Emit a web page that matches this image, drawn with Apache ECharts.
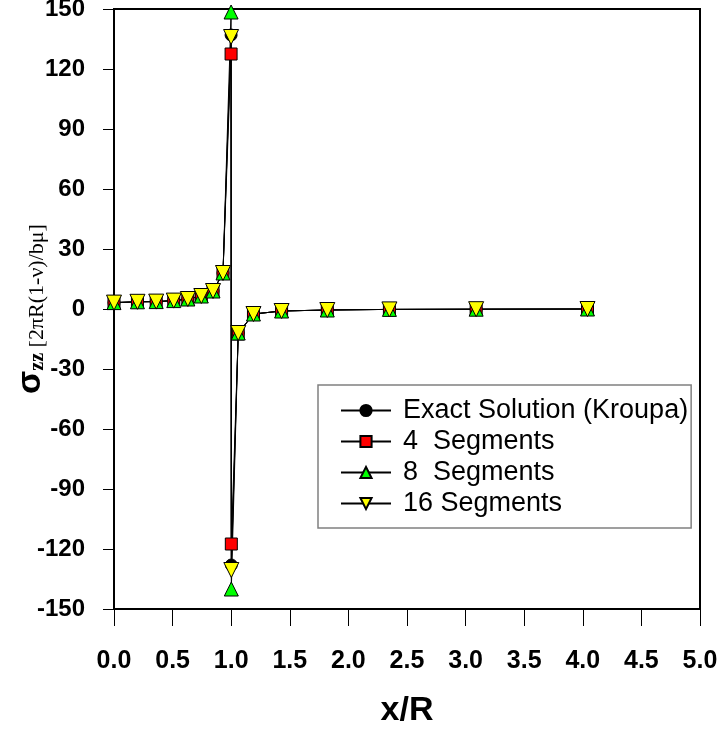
<!DOCTYPE html>
<html>
<head>
<meta charset="utf-8">
<script src="https://cdn.jsdelivr.net/npm/echarts@6/dist/echarts.min.js"></script>
<style>html,body{margin:0;padding:0;background:#fff;}#c{width:723px;height:731px;}</style>
</head>
<body>
<div id="c"></div>
<script>
var xValues = [0, 0.2, 0.36, 0.51, 0.63, 0.745, 0.845, 0.93, 0.999, 1.001, 1.06, 1.19, 1.43, 1.82, 2.35, 3.09, 4.04];
var exactValues = [3.2, 3.6, 3.7, 4.2, 5.0, 6.5, 9.0, 18, 137, -128, -12, -2.5, -1, -0.5, -0.2, -0.1, 0];
var seg4Values  = [3.2, 3.6, 3.7, 4.2, 5.0, 6.5, 9.0, 18, 127.5, -117.5, -12.5, -2.5, -1, -0.5, -0.2, -0.1, 0];
var seg8Values  = [3.2, 3.6, 3.7, 4.2, 5.0, 6.5, 9.0, 18, 148.5, -140, -12, -2.5, -1, -0.5, -0.2, -0.1, 0];
var seg16Values = [3.2, 3.6, 3.7, 4.2, 5.0, 6.5, 9.0, 18, 136, -130.5, -12, -2.5, -1, -0.5, -0.2, -0.1, 0];
var seriesNames = ['Exact Solution (Kroupa)', '4  Segments', '8  Segments', '16 Segments'];
var xTicks = ['0.0','0.5','1.0','1.5','2.0','2.5','3.0','3.5','4.0','4.5','5.0'];
var yTicks = ['-150','-120','-90','-60','-30','0','30','60','90','120','150'];

function pairs(vals){ return xValues.map(function(x,i){ return [x, vals[i]]; }); }

var chart = echarts.init(document.getElementById('c'), null, {renderer:'canvas'});
var font = "'Liberation Sans', Arial, sans-serif";
var serif = "'Liberation Serif', 'DejaVu Serif', serif";
function mk(name, vals, symbol, size, color, rotate){
  return {
    name: name, type: 'line', data: pairs(vals), clip: false,
    symbol: symbol, symbolSize: size, symbolRotate: rotate || 0,
    showAllSymbol: true,
    lineStyle: {color: '#000', width: 1},
    itemStyle: {color: color, borderColor: '#000', borderWidth: 1},
    emphasis: {disabled: true}, animation: false
  };
}
chart.setOption({
  animation: false,
  grid: {left: 114, right: 23, top: 9, bottom: 122, containLabel: false, outerBoundsMode: 'none',
    show: true, borderColor: '#000', borderWidth: 2, backgroundColor: 'transparent'},
  legend: {
    orient: 'vertical', left: 318, top: 385,
    data: seriesNames,
    itemWidth: 50, itemHeight: 14, itemGap: 4,
    padding: [12, 3, 11, 22],
    borderColor: '#808080', borderWidth: 1.5,
    textStyle: {fontFamily: font, fontSize: 27, color: '#000', lineHeight: 27, padding: [0,0,0,7]},
    selectedMode: false
  },
  xAxis: {
    type: 'value', min: 0, max: 5, interval: 0.5,
    name: 'x/R', nameLocation: 'middle', nameGap: 85, nameMoveOverlap: false,
    nameTextStyle: {fontFamily: font, fontSize: 34, fontWeight: 'bold', color: '#000'},
    axisLine: {onZero: false, lineStyle: {color: '#000', width: 2}},
    axisTick: {show: true, inside: false, length: 17, lineStyle: {color: '#000', width: 1}},
    axisLabel: {margin: 40, fontFamily: font, fontSize: 25, fontWeight: 'bold', color: '#000',
      formatter: function(v){ return xTicks[Math.round(v/0.5)]; }},
    splitLine: {show: false}
  },
  yAxis: {
    type: 'value', min: -150, max: 150, interval: 30,
    name: '{s|σ}{sub|zz}{b| [2πR(1-ν)/bμ]}', nameLocation: 'middle', nameGap: 66, nameRotate: 90,
    nameMoveOverlap: false,
    nameTextStyle: {
      color: '#000',
      rich: {
        s: {fontFamily: font, fontSize: 34, fontWeight: 'bold', color: '#000', verticalAlign: 'bottom', lineHeight: 36},
        sub: {fontFamily: serif, fontSize: 20, fontWeight: 'bold', color: '#000', verticalAlign: 'bottom', lineHeight: 30},
        b: {fontFamily: serif, fontSize: 22, color: '#000', verticalAlign: 'bottom', lineHeight: 30}
      }
    },
    axisLine: {onZero: false, lineStyle: {color: '#000', width: 2}},
    axisTick: {show: true, inside: false, length: 11, lineStyle: {color: '#000', width: 1}},
    axisLabel: {margin: 29, fontFamily: font, fontSize: 24, fontWeight: 'bold', color: '#000',
      formatter: function(v){ return yTicks[Math.round((v+150)/30)]; }},
    splitLine: {show: false}
  },
  series: [
    mk(seriesNames[0], exactValues, 'circle', 12, '#000'),
    mk(seriesNames[1], seg4Values, 'rect', 12, '#ff0000'),
    mk(seriesNames[2], seg8Values, 'triangle', 14, '#00ff00'),
    mk(seriesNames[3], seg16Values, 'triangle', 15, '#ffff00', 180)
  ]
});
</script>
</body>
</html>
